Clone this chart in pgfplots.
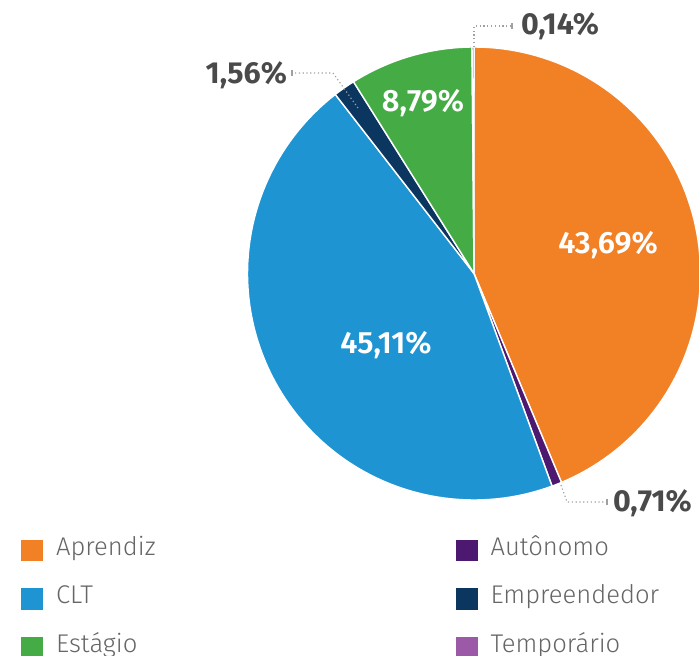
\documentclass[border=0pt]{standalone}
\usepackage{pgfplots}
\pgfplotsset{compat=1.18}
\usepackage{pgfplotstable}
\usepackage{fontspec}
\setmainfont{Fira Sans}
\newfontfamily\firalight{Fira Sans Light}
\newfontfamily\firasemi{Fira Sans SemiBold}

\definecolor{cAprendiz}{HTML}{F28025}
\definecolor{cAutonomo}{HTML}{4C1870}
\definecolor{cCLT}{HTML}{1E94D2}
\definecolor{cEmpreendedor}{HTML}{0B3660}
\definecolor{cEstagio}{HTML}{45AC45}
\definecolor{cTemporario}{HTML}{9B59A8}
\definecolor{labelgray}{HTML}{4A4A4A}
\definecolor{leggray}{HTML}{666666}
\definecolor{leadgray}{HTML}{A0A0A0}

% shares in percent
\pgfplotstableread{
label value
Aprendiz 43.69
Autonomo 0.71
CLT 45.11
Empreendedor 1.56
Estagio 8.79
Temporario 0.14
}\piedata

% cumulative angles, clockwise from the top
\pgfplotstablegetelem{0}{value}\of\piedata \pgfmathsetmacro\aA{90-3.6*\pgfplotsretval}
\pgfplotstablegetelem{1}{value}\of\piedata \pgfmathsetmacro\aB{\aA-3.6*\pgfplotsretval}
\pgfplotstablegetelem{2}{value}\of\piedata \pgfmathsetmacro\aC{\aB-3.6*\pgfplotsretval}
\pgfplotstablegetelem{3}{value}\of\piedata \pgfmathsetmacro\aD{\aC-3.6*\pgfplotsretval}
\pgfplotstablegetelem{4}{value}\of\piedata \pgfmathsetmacro\aE{\aD-3.6*\pgfplotsretval}
\pgfplotstablegetelem{5}{value}\of\piedata \pgfmathsetmacro\aF{\aE-3.6*\pgfplotsretval}

% pie centre (474,381.5), radius 226.5, in picture pixels
\newcommand{\slice}[3]{%
  \addplot[fill=#1, draw=white, line width=0.7pt, domain=#3:#2, samples=90, variable=\t]
    ({474+226.5*cos(\t)}, {381.5+226.5*sin(\t)}) -- (axis cs:474,381.5) -- cycle;}

\tikzset{
  inlab/.style={font=\firasemi\fontsize{15.4}{17}\selectfont, text=white},
  outlab/.style={font=\bfseries\fontsize{15.2}{17}\selectfont, text=labelgray},
  lead/.style={leadgray, line width=0.6pt, dash pattern=on 0.6pt off 1.3pt},
}

\begin{document}
\begin{tikzpicture}
\useasboundingbox (0,0) rectangle (349.5pt,327.5pt);
\clip (0,0) rectangle (349.5pt,327.5pt);
\begin{axis}[
    at={(0,0)}, anchor=south west,
    scale only axis, width=349.5pt, height=327.5pt,
    xmin=0, xmax=699, ymin=0, ymax=655,
    hide axis, clip=false,
    legend columns=2,
    legend cell align=left,
    legend image code/.code={\fill[#1, draw=none] (0pt,-5.4pt) rectangle (11pt,5.4pt);},
    legend style={at={(0.021,0.1866)}, anchor=north west, draw=none, fill=none,
        font=\firalight\fontsize{12.8}{14}\selectfont, text=leggray, row sep=10.8pt,
        nodes={text height=0.72em, text depth=0.22em},
        /tikz/every odd column/.append style={column sep=4.5pt},
        /tikz/every even column/.append style={column sep=148pt}},
]
\slice{cAprendiz}{90}{\aA}
\addlegendentry{Aprendiz}
\slice{cAutonomo}{\aA}{\aB}
\addlegendentry{Autônomo}
\slice{cCLT}{\aB}{\aC}
\addlegendentry{CLT}
\slice{cEmpreendedor}{\aC}{\aD}
\addlegendentry{Empreendedor}
\slice{cEstagio}{\aD}{\aE}
\addlegendentry{Estágio}
\slice{cTemporario}{\aE}{\aF}
\addlegendentry{Temporário}

\node[inlab] at (axis cs:608,410) {43,69\%};
\node[inlab] at (axis cs:386,310) {45,11\%};
\node[inlab] at (axis cs:423,552) {8,79\%};

\draw[lead] (axis cs:474,608) -- (axis cs:474,629) -- (axis cs:512,629);
\draw[leadgray, line width=0.6pt] (axis cs:512,626) -- (axis cs:512,632);
\node[outlab, anchor=west] at (axis cs:514,629) {0,14\%};

\draw[lead] (axis cs:358,547) -- (axis cs:333,582) -- (axis cs:292,582);
\draw[leadgray, line width=0.6pt] (axis cs:292,579) -- (axis cs:292,585);
\node[outlab, anchor=east] at (axis cs:294,580) {1,56\%};

\draw[lead] (axis cs:561,170) -- (axis cs:567,153) -- (axis cs:607,153);
\draw[leadgray, line width=0.6pt] (axis cs:607,150) -- (axis cs:607,156);
\node[outlab, anchor=west] at (axis cs:606,152) {0,71\%};
\end{axis}
\end{tikzpicture}
\end{document}
